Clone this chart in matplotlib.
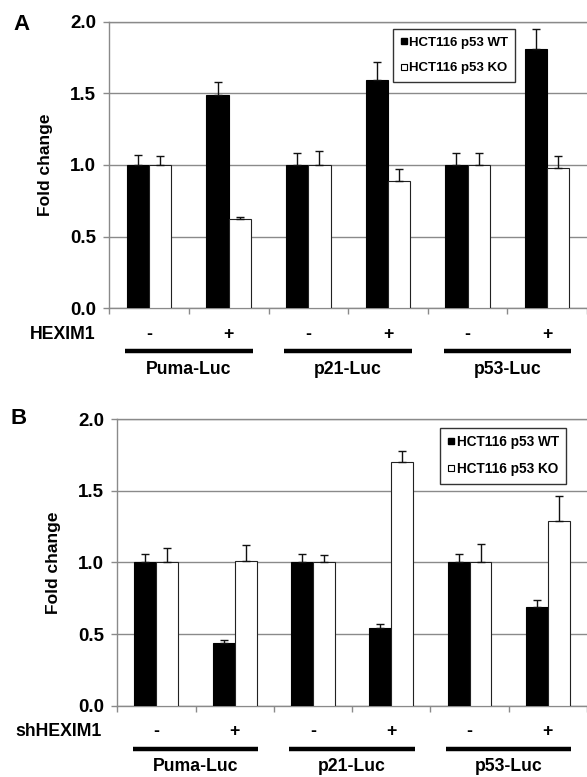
import matplotlib
matplotlib.use("Agg")
import matplotlib.pyplot as plt
from matplotlib.lines import Line2D
import matplotlib.transforms as mtransforms
import numpy as np

plt.rcParams['font.family'] = ['Liberation Sans', 'DejaVu Sans']

# ---------------- data ----------------
groups = ["Puma-Luc", "p21-Luc", "p53-Luc"]
treat = ["-", "+", "-", "+", "-", "+"]
series_names = ["HCT116 p53 WT", "HCT116 p53 KO"]

A_wt = [1.00, 1.49, 1.00, 1.59, 1.00, 1.81]
A_wt_err = [0.07, 0.09, 0.08, 0.13, 0.08, 0.14]
A_ko = [1.00, 0.62, 1.00, 0.89, 1.00, 0.98]
A_ko_err = [0.06, 0.02, 0.10, 0.08, 0.08, 0.08]

B_wt = [1.00, 0.44, 1.00, 0.54, 1.00, 0.69]
B_wt_err = [0.06, 0.02, 0.06, 0.03, 0.06, 0.05]
B_ko = [1.00, 1.01, 1.00, 1.70, 1.00, 1.29]
B_ko_err = [0.10, 0.11, 0.05, 0.08, 0.13, 0.17]

yticks = [0.0, 0.5, 1.0, 1.5, 2.0]

W, H = 587, 777
fig = plt.figure(figsize=(W / 100, H / 100), dpi=100)

GRID = "#8a8a8a"


def panel(rect, wt, wt_err, ko, ko_err, treat_name, letter, letter_xy,
          leg_anchor, leg_size, leg_spacing, label_dx, fold_x):
    ax = fig.add_axes(rect)
    x = np.arange(len(wt))
    bw = 0.28
    ax.bar(x - bw / 2, wt, bw, color="black", edgecolor="black", linewidth=0.8, zorder=3)
    ax.bar(x + bw / 2, ko, bw, color="white", edgecolor="#222222", linewidth=0.8, zorder=3)
    z = np.zeros(len(wt))
    ax.errorbar(x - bw / 2, wt, yerr=[z, wt_err], fmt="none", ecolor="#111111",
                elinewidth=1.0, capsize=3.2, capthick=1.0, zorder=4)
    ax.errorbar(x + bw / 2, ko, yerr=[z, ko_err], fmt="none", ecolor="#111111",
                elinewidth=1.0, capsize=3.2, capthick=1.0, zorder=4)

    ax.set_xlim(-0.5, len(wt) - 0.5)
    ax.set_ylim(0, 2.0)
    ax.set_yticks(yticks)
    ax.set_yticklabels([f"{v:.1f}" for v in yticks], fontsize=13.5, fontweight="bold")
    ax.yaxis.grid(True, color=GRID, linewidth=1.0, zorder=0)
    ax.set_axisbelow(True)
    ax.set_xticks(np.arange(-0.5, len(wt), 1.0))
    ax.set_xticklabels([])
    ax.tick_params(axis="both", color=GRID, length=4.5, width=1.0)
    ax.tick_params(axis="y", pad=5)
    for s in ["left", "bottom", "top"]:
        ax.spines[s].set_color(GRID)
        ax.spines[s].set_linewidth(1.0)
    ax.spines["right"].set_visible(False)

    ax.text(fold_x, 0.5, "Fold change", transform=ax.transAxes, rotation=90,
            ha="center", va="center", fontsize=12.5, fontweight="bold")

    trans = mtransforms.blended_transform_factory(ax.transData, ax.transAxes)
    for i, t in enumerate(treat):
        ax.text(i, -0.091, t, transform=trans, ha="center", va="center",
                fontsize=12.7, fontweight="bold")
    ax.text(label_dx, -0.091, treat_name, transform=ax.transAxes, ha="right",
            va="center", fontsize=12.7, fontweight="bold")
    for g, name in enumerate(groups):
        ax.plot([2 * g - 0.3, 2 * g + 1.3], [-0.15, -0.15], transform=trans,
                color="black", linewidth=3.2, solid_capstyle="butt", clip_on=False)
        ax.text(2 * g + 0.5, -0.213, name, transform=trans, ha="center",
                va="center", fontsize=12.7, fontweight="bold")

    handles = [Line2D([], [], marker="s", linestyle="none", markersize=5,
                      markerfacecolor="black", markeredgecolor="black"),
               Line2D([], [], marker="s", linestyle="none", markersize=5,
                      markerfacecolor="white", markeredgecolor="black",
                      markeredgewidth=0.8)]
    leg = ax.legend(handles, series_names, loc="upper left",
                    bbox_to_anchor=leg_anchor, borderaxespad=0,
                    frameon=True, fancybox=False, shadow=False,
                    handlelength=0.5, handletextpad=0.15, borderpad=0.55,
                    labelspacing=leg_spacing,
                    prop={"weight": "bold", "size": leg_size})
    leg.get_frame().set_edgecolor("black")
    leg.get_frame().set_linewidth(1.0)
    leg.set_zorder(10)

    fig.text(letter_xy[0], letter_xy[1], letter, ha="center", va="center",
             fontsize=16, fontweight="bold")
    return ax


panel([109.3 / W, (H - 308.3) / H, (W - 109.3) / W, 286.7 / H],
      A_wt, A_wt_err, A_ko, A_ko_err, "HEXIM1", "A", (21 / W, 1 - 25 / H),
      (0.5945, 0.973), 9.5, 1.0, -0.029, -0.133)

panel([117.2 / W, (H - 705.7) / H, (W - 117.2) / W, 286.7 / H],
      B_wt, B_wt_err, B_ko, B_ko_err, "shHEXIM1", "B", (18.5 / W, 1 - 418.5 / H),
      (0.688, 0.970), 9.8, 0.95, -0.033, -0.135)

fig.savefig("out.png", dpi=100)
